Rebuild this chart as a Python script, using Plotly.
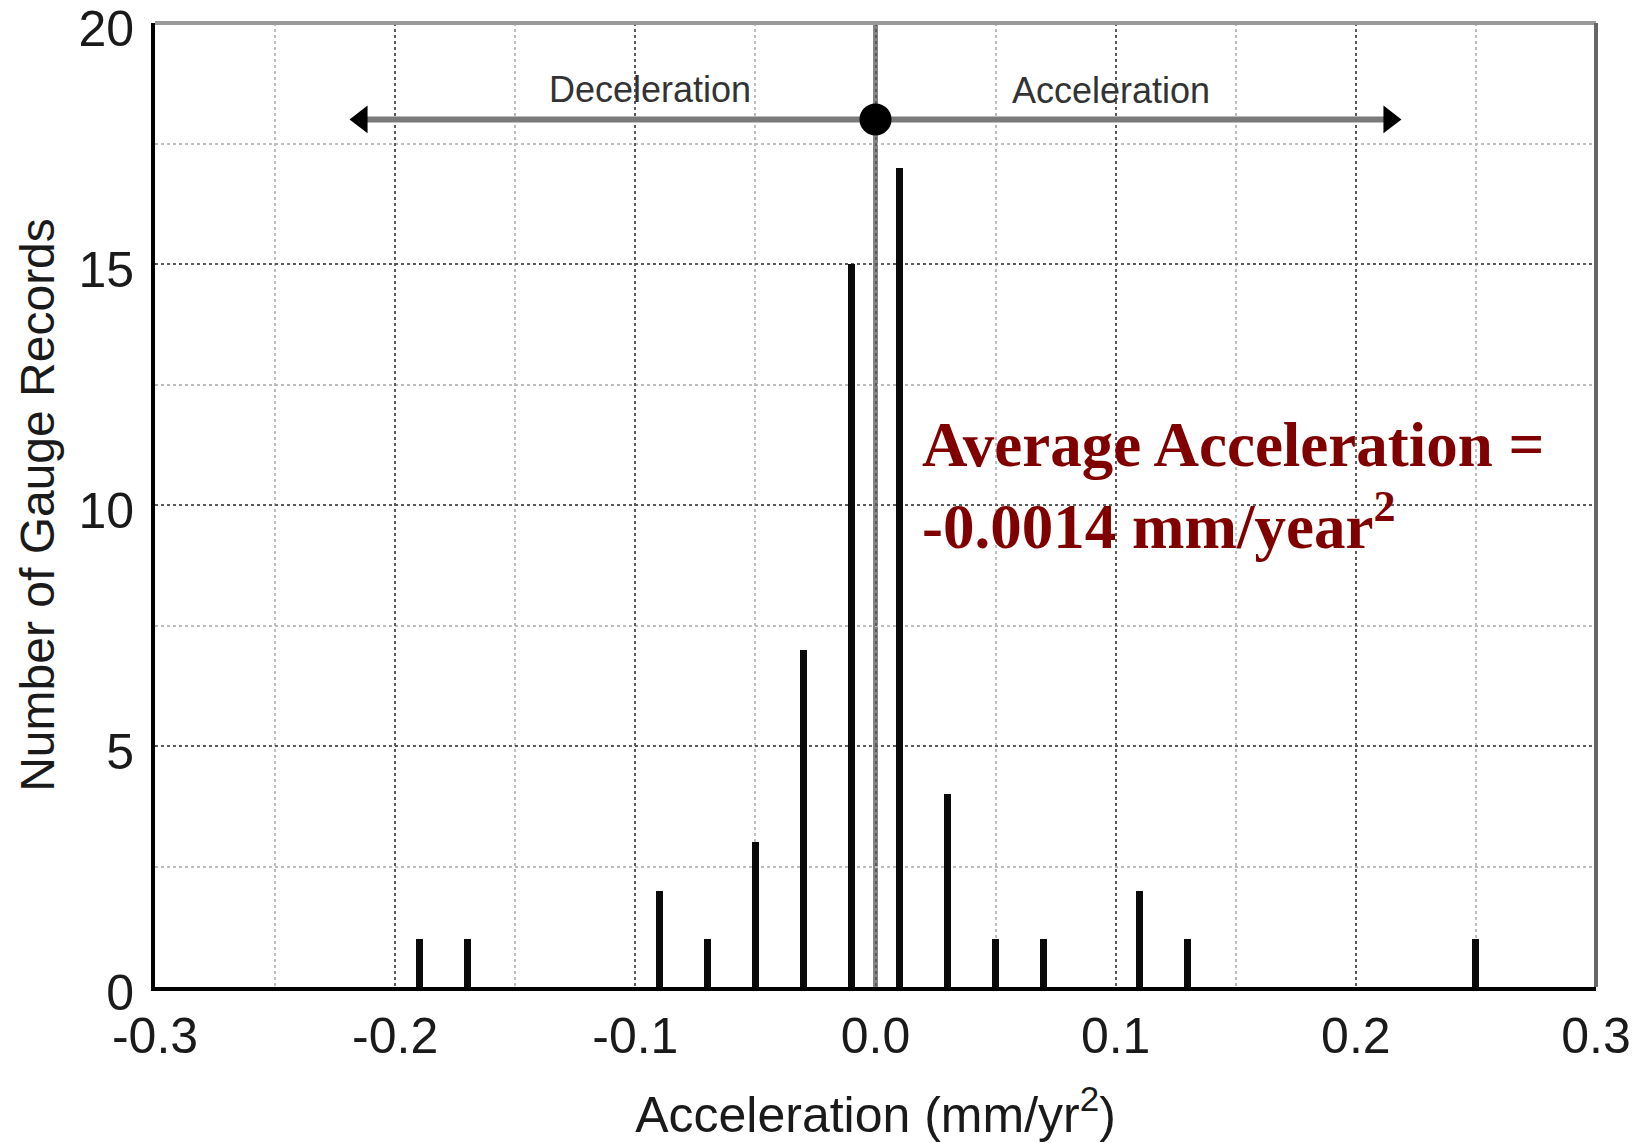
import plotly.graph_objects as go

# ---- data ----
bin_centers = [-0.19, -0.17, -0.09, -0.07, -0.05, -0.03, -0.01, 0.01, 0.03, 0.05, 0.07, 0.11, 0.13, 0.25]
gauge_counts = [1, 1, 2, 1, 3, 7, 15, 17, 4, 1, 1, 2, 1, 1]
x_ticks = [-0.3, -0.2, -0.1, 0.0, 0.1, 0.2, 0.3]
x_tick_labels = ["-0.3", "-0.2", "-0.1", "0.0", "0.1", "0.2", "0.3"]
y_ticks = [0, 5, 10, 15, 20]
y_tick_labels = ["0", "5", "10", "15", "20"]
arrow_level = [18]
arrow_ends = [-0.214, 0.214]
side_labels = ["Deceleration", "Acceleration"]
avg_text = "Average Acceleration =<br>-0.0014 mm/year<sup>2</sup>"

SANS = "Liberation Sans, Arial, sans-serif"
SERIF = "Liberation Serif, Times New Roman, serif"

fig = go.Figure()

fig.add_trace(go.Bar(
    x=bin_centers, y=gauge_counts, width=0.0029,
    marker=dict(color="#0a0a0a", line=dict(width=0)),
    showlegend=False, hoverinfo="x+y",
))

# arrowheads and central dot
fig.add_trace(go.Scatter(
    x=[arrow_ends[0]], y=arrow_level, mode="markers",
    marker=dict(symbol="triangle-left", size=24, color="black"),
    showlegend=False, hoverinfo="skip", cliponaxis=False,
))
fig.add_trace(go.Scatter(
    x=[arrow_ends[1]], y=arrow_level, mode="markers",
    marker=dict(symbol="triangle-right", size=24, color="black"),
    showlegend=False, hoverinfo="skip", cliponaxis=False,
))
fig.add_trace(go.Scatter(
    x=[0.0], y=arrow_level, mode="markers",
    marker=dict(symbol="circle", size=32, color="black"),
    showlegend=False, hoverinfo="skip", cliponaxis=False,
))

# arrow shaft
fig.add_shape(type="line", xref="x", yref="y", x0=arrow_ends[0], x1=arrow_ends[1],
              y0=arrow_level[0], y1=arrow_level[0],
              line=dict(color="#7a7a7a", width=6), layer="between")
# zero line
fig.add_shape(type="line", xref="x", yref="paper", x0=0, x1=0, y0=0, y1=1,
              line=dict(color="#858585", width=5), layer="between")
# top & right frame (gray)
fig.add_shape(type="line", xref="paper", yref="paper", x0=0, x1=1, y0=1, y1=1,
              line=dict(color="#9a9a9a", width=4), layer="above")
fig.add_shape(type="line", xref="paper", yref="paper", x0=1, x1=1, y0=0, y1=1,
              line=dict(color="#666666", width=4), layer="above")

fig.add_annotation(x=-0.094, y=18.63, xref="x", yref="y", text=side_labels[0],
                   showarrow=False, font=dict(family=SANS, size=36, color="#333333"))
fig.add_annotation(x=0.098, y=18.6, xref="x", yref="y", text=side_labels[1],
                   showarrow=False, font=dict(family=SANS, size=36, color="#333333"))

fig.add_annotation(x=0.0185, y=10.4, xref="x", yref="y", text=avg_text,
                   showarrow=False, xanchor="left", yanchor="middle", align="left",
                   font=dict(family=SERIF, size=63, color="#800000", weight="bold"))

# page body has an 8px default margin: compensate in size and margins
fig.update_layout(
    width=1631, height=1135,
    margin=dict(l=147, r=43, t=15, b=156, autoexpand=False),
    paper_bgcolor="white", plot_bgcolor="white",
    bargap=0,
    xaxis=dict(
        range=[-0.3, 0.3], tickmode="array", tickvals=x_ticks, ticktext=x_tick_labels,
        ticks="", showline=True, linecolor="black", linewidth=4, automargin=False,
        showgrid=True, gridcolor="#5a5a5a", gridwidth=2, griddash="dot",
        zeroline=False, ticklabeloverflow="allow", ticklabelstandoff=2,
        minor=dict(dtick=0.05, tick0=0, showgrid=True, gridcolor="#bdbdbd", gridwidth=2, griddash="dot"),
        tickfont=dict(family=SANS, size=50, color="#1a1a1a"),
        title=dict(text="Acceleration (mm/yr<sup>2</sup>)", standoff=38,
                   font=dict(family=SANS, size=50, color="#1a1a1a")),
    ),
    yaxis=dict(
        range=[0, 20], tickmode="array", tickvals=y_ticks, ticktext=y_tick_labels,
        ticks="", showline=True, linecolor="black", linewidth=4, automargin=False,
        showgrid=True, gridcolor="#5a5a5a", gridwidth=2, griddash="dot",
        zeroline=False, ticklabeloverflow="allow", ticklabelstandoff=7, ticklabelshift=5,
        minor=dict(dtick=2.5, tick0=0, showgrid=True, gridcolor="#bdbdbd", gridwidth=2, griddash="dot"),
        tickfont=dict(family=SANS, size=50, color="#1a1a1a"),
        title=dict(text="Number of Gauge Records", standoff=10,
                   font=dict(family=SANS, size=48, color="#1a1a1a")),
    ),
)

fig.write_html("out.html")
